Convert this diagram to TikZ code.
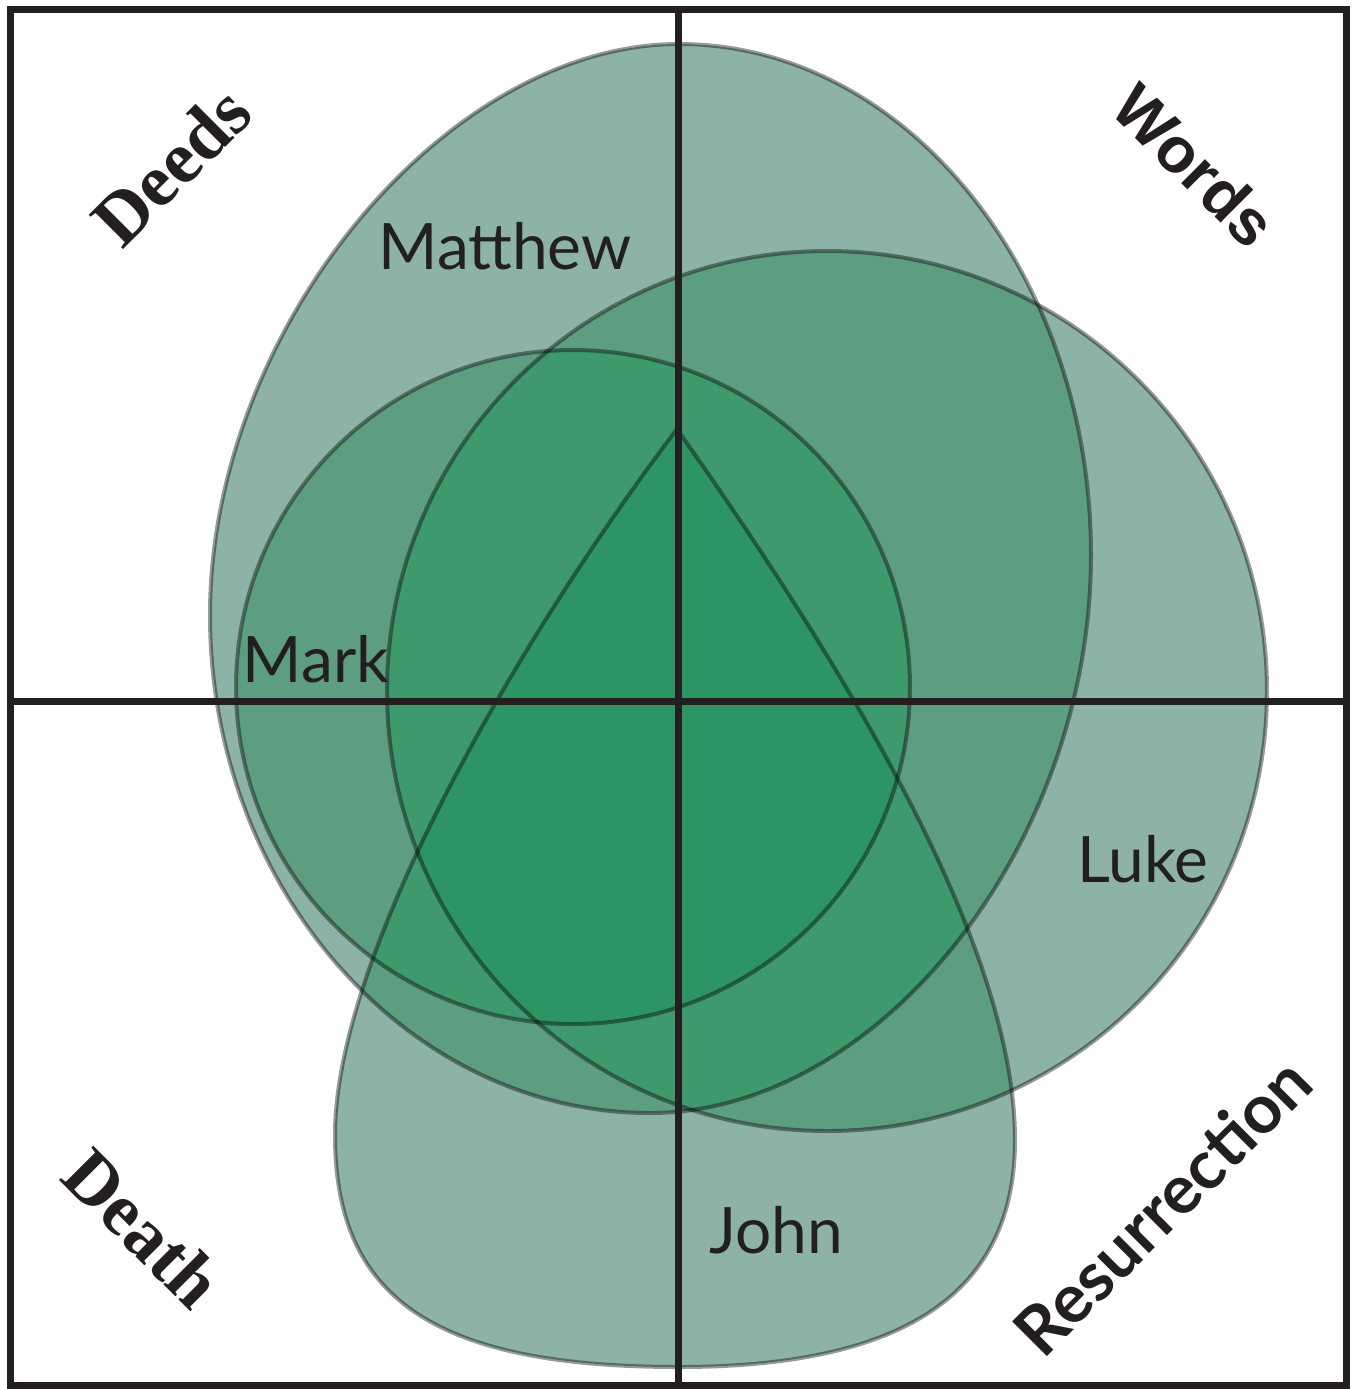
\documentclass[tikz,border=0pt]{standalone}
\usepackage{fontspec}
\setmainfont{Lato}
\newfontfamily\tnr{Liberation Serif}
\newfontfamily\ars{Liberation Sans}
\newfontfamily\lato{Lato}
\definecolor{ink}{HTML}{231F20}
\definecolor{layA}{HTML}{8CB3A5}
\definecolor{layB}{HTML}{5E9E80}
\definecolor{layC}{HTML}{3E996C}
\definecolor{layD}{HTML}{2C9563}
\def\pMatt{(679,44) .. controls (906,44) and (1091,274) .. (1091,555) .. controls (1091,845) and (879,1113) .. (650,1113) .. controls (408,1113) and (210,889) .. (210,615) .. controls (210,330) and (445,44) .. (679,44) -- cycle}
\def\pMark{(573,687) circle[radius=168.5pt]}
\def\pLuke{(827,691) circle[radius=220pt]}
\def\pJohn{(677,429) .. controls (526,628) and (335,950) .. (335,1135) .. controls (335,1295) and (429,1367) .. (679,1367) .. controls (909,1367) and (1015,1290) .. (1015,1140) .. controls (1015,940) and (838,658) .. (677,429) -- cycle}
\begin{document}
\begin{tikzpicture}[x=0.5pt,y=-0.5pt,
  outline/.style={draw=black, draw opacity=0.4, line width=2pt},
  rule/.style={draw=ink, line width=3.5pt},
  gospel/.style={font=\lato\fontsize{32}{38}\selectfont, text=ink, inner sep=0pt, anchor=base},
  corner/.style={text=ink, inner sep=0pt}]
\fill[white] (0,0) rectangle (1356,1389);
\useasboundingbox (0,0) rectangle (1356,1389);
% one layer
\fill[layA] \pMatt;
\fill[layA] \pLuke;
\fill[layA] \pJohn;
\fill[layA] \pMark;
% two layers
\begin{scope}\clip \pMatt; \fill[layB] \pMark; \end{scope}
\begin{scope}\clip \pMatt; \fill[layB] \pLuke; \end{scope}
\begin{scope}\clip \pMatt; \fill[layB] \pJohn; \end{scope}
\begin{scope}\clip \pMark; \fill[layB] \pLuke; \end{scope}
\begin{scope}\clip \pMark; \fill[layB] \pJohn; \end{scope}
\begin{scope}\clip \pLuke; \fill[layB] \pJohn; \end{scope}
% three layers
\begin{scope}\clip \pMatt; \clip \pMark; \fill[layC] \pLuke; \end{scope}
\begin{scope}\clip \pMatt; \clip \pMark; \fill[layC] \pJohn; \end{scope}
\begin{scope}\clip \pMatt; \clip \pLuke; \fill[layC] \pJohn; \end{scope}
\begin{scope}\clip \pMark; \clip \pLuke; \fill[layC] \pJohn; \end{scope}
% four layers
\begin{scope}\clip \pMatt; \clip \pMark; \clip \pLuke; \fill[layD] \pJohn; \end{scope}
% outlines
\draw[outline] \pMatt;
\draw[outline] \pMark;
\draw[outline] \pLuke;
\draw[outline] \pJohn;
% frame and axes
\coordinate (vt) at (678,9);
\coordinate (vb) at (678,1385);
\coordinate (hl) at (10,701);
\coordinate (hr) at (1346,701);
\draw[rule] (vt) -- (vb);
\draw[rule] (hl) -- (hr);
\draw[rule] (10,9) rectangle (1346,1385);
% labels
\node[gospel] (matthew) at (505,269) {Matthew};
\node[gospel] (mark) at (316,682) {Mark};
\node[gospel] (luke) at (1143,882) {Luke};
\node[gospel] (john) at (776,1253) {John};
\node[corner, font=\tnr\bfseries\fontsize{37}{37}\selectfont, rotate=45] (deeds) at (171,166) {Deeds};
\node[corner, font=\ars\bfseries\fontsize{32}{32}\selectfont, rotate=-45] (words) at (1195,165) {Words};
\node[corner, font=\tnr\bfseries\fontsize{37}{37}\selectfont, rotate=-45] (death) at (143,1228) {Death};
\node[corner, font=\lato\bfseries\fontsize{34}{34}\selectfont, rotate=45] (resurrection) at (1162,1206) {Resurrection};
\end{tikzpicture}
\end{document}
